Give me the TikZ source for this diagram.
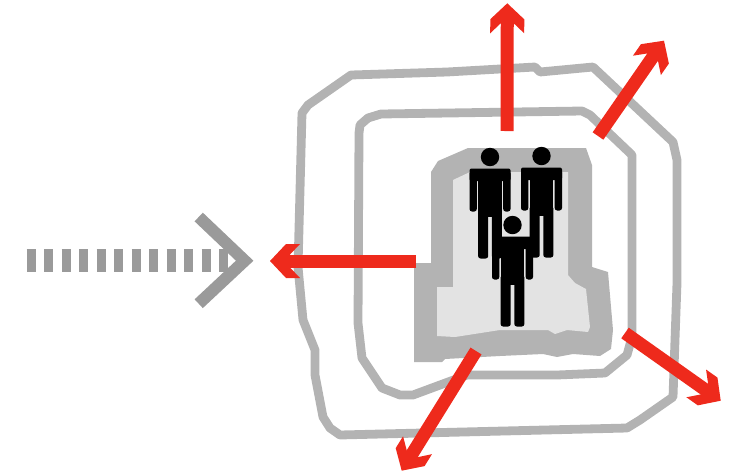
\documentclass[tikz,border=0pt]{standalone}
\usepackage{tikz}
\usetikzlibrary{arrows.meta}
\definecolor{ringgray}{HTML}{B3B3B3}
\definecolor{lightgray}{HTML}{E3E3E3}
\definecolor{arrowgray}{HTML}{9A9A9A}
\definecolor{arrowred}{HTML}{EE2A1C}
\pgfdeclarearrow{name=Barb,
setup code={\pgfarrowssettipend{0pt}\pgfarrowssetlineend{-14pt}\pgfarrowssetbackend{-30pt}},
drawing code={
  \pgfpathmoveto{\pgfqpoint{0pt}{0pt}}
  \pgfpathlineto{\pgfqpoint{-16pt}{17pt}}
  \pgfpathlineto{\pgfqpoint{-30pt}{17pt}}
  \pgfpathlineto{\pgfqpoint{-20pt}{6.5pt}}
  \pgfpathlineto{\pgfqpoint{-20pt}{-6.5pt}}
  \pgfpathlineto{\pgfqpoint{-30pt}{-17pt}}
  \pgfpathlineto{\pgfqpoint{-16pt}{-17pt}}
  \pgfpathclose\pgfusepathqfill}}
\tikzset{ring/.style={draw=ringgray, line width=8.8pt, line join=round}}
\tikzset{redarrow/.style={draw=arrowred, line width=13pt, -{Barb}}}
% one standing figure, placed by the centre of its head
\newcommand{\person}[3]{
  \begin{scope}[shift={(#2,#3)}]
  \fill[black] (0,0) circle (9.2pt) node (#1) {};
  \fill[black, rounded corners=2pt] (-20.5,11.5) rectangle (20.5,24);
  \fill[black] (-11.9,14) rectangle (11.9,60);
  \fill[black, rounded corners=2.5pt] (-20.5,14) rectangle (-13.2,54.5);
  \fill[black, rounded corners=2.5pt] (13.2,14) rectangle (20.5,54.5);
  \fill[black, rounded corners=2.5pt] (-11.9,50) rectangle (-1.8,101.5);
  \fill[black, rounded corners=2.5pt] (1.8,50) rectangle (11.9,101.5);
  \end{scope}
}
\begin{document}
\begin{tikzpicture}[x=1pt, y=-1pt]
\useasboundingbox (0,0) rectangle (742,475);

\draw [ring] (351,75) -- (447,72) -- (535,67) -- (540,72) -- (593,67) -- (673,142) -- (677,160)
  -- (677,283) -- (673,397) -- (640,420) -- (627,428) -- (340,435) -- (330,428) -- (323,417)
  -- (315,375) -- (315,350) -- (303,320) -- (298,267) -- (302,113) -- (308,105) -- cycle;
\draw [ring] (381,114) -- (582,111) -- (590,115) -- (632,155) -- (632,337) -- (627,355)
  -- (605,373) -- (557,375) -- (467,375) -- (413,395) -- (400,395) -- (382,388) -- (362,358)
  -- (358,323) -- (359,133) -- (360,125) -- (368,118) -- cycle;

\fill [ringgray] (468,148) -- (586,148) -- (592,165) -- (592,267) -- (608,272) -- (613,330)
  -- (611,349) -- (600,356) -- (573,354) -- (557,357) -- (543,354) -- (500,356) -- (445,359)
  -- (442,362) -- (414,362) -- (414,263) -- (431,263) -- (431,172) -- (438,161) -- cycle;
\fill [lightgray] (453,180) -- (470,172) -- (568,172) -- (568,275) -- (575,283) -- (586,289)
  -- (590,327) -- (588,332) -- (567,330) -- (555,334) -- (548,330) -- (500,330) -- (455,337)
  -- (437,336) -- (437,287) -- (453,287) -- cycle;

\person{left}{490}{157}
\person{right}{541.5}{156}
\person{front}{512.5}{225}

\coordinate (topa) at (507,131);
\coordinate (topb) at (507.3,3.3);
\coordinate (ura) at (598,136);
\coordinate (urb) at (664,40.7);
\coordinate (lefta) at (416,261);
\coordinate (leftb) at (270,261);
\coordinate (lra) at (625,333);
\coordinate (lrb) at (720.7,400.7);
\coordinate (lla) at (476,351);
\coordinate (llb) at (401.7,470.7);
\draw [redarrow] (topa) -- (topb);
\draw [redarrow] (ura) -- (urb);
\draw [redarrow] (lefta) -- (leftb);
\draw [redarrow] (lra) -- (lrb);
\draw [redarrow] (lla) -- (llb);

\coordinate (dasha) at (26.7,260.7);
\coordinate (dashb) at (228,260.7);
\coordinate (chevtop) at (198.7,217);
\coordinate (chevtip) at (244.7,260.7);
\coordinate (chevbot) at (198.7,303.7);
\draw [arrowgray, line width=23pt, dash pattern=on 9pt off 8.5pt] (dasha) -- (dashb);
\draw [arrowgray, line width=12pt] (chevtop) -- (chevtip) -- (chevbot);

\end{tikzpicture}
\end{document}
